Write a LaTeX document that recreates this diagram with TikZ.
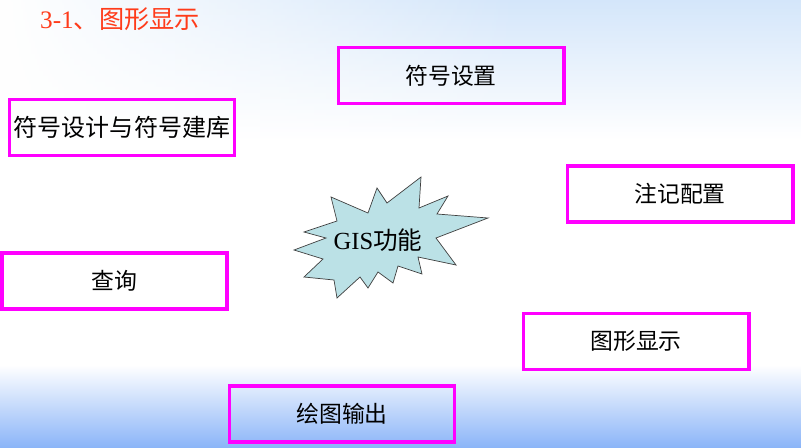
\documentclass[tikz,border=0pt]{standalone}
\usepackage{fontspec}
\setmainfont{Liberation Serif}
\newfontfamily\cjk{Noto Sans CJK SC}
\usetikzlibrary{positioning,fadings}
\definecolor{boxpink}{RGB}{255,0,255}
\definecolor{titlered}{RGB}{255,59,26}
\definecolor{burstfill}{RGB}{187,225,230}
\definecolor{skyblue}{RGB}{212,230,250}
\definecolor{floorblue}{RGB}{138,180,248}
\tikzfading[name=fadetoright, left color=transparent!0, right color=transparent!100]
\tikzset{
  func/.style={draw=boxpink, line width=3.4pt, minimum width=6.75cm,
    minimum height=1.68cm, inner sep=0pt, font=\cjk\fontsize{19.5}{22}\selectfont},
  burst/.style={draw=black!75, line width=0.6pt, fill=burstfill, line join=miter},
}

\begin{document}
\begin{tikzpicture}[x=0.03cm, y=-0.03cm]
	% background
	\useasboundingbox (0,0) rectangle (801,448);
	\shade[top color=skyblue, bottom color=white] (0,0) rectangle (801,140);
	\fill[white, path fading=fadetoright] (0,0) rectangle (520,140);
	\fill[white] (0,140) rectangle (801,365);
	\shade[top color=white, bottom color=floorblue] (0,365) rectangle (801,448);
	% title
	\node[anchor=west, inner sep=0pt, text=titlered, font=\fontsize{21.5}{24}\selectfont] (title) at (40,19) {3-1{\cjk 、图形显示}};
	% function boxes
	\node[func] (symset) at (451,75.5) {符号设置};
	\node[func, font=\cjk\fontsize{20.5}{24}\selectfont] (symlib) at (122,127.5) {符号设计与符号建库};
	\node[func] (annot) at (680,194) {注记配置};
	\node[func] (query) at (114.5,281) {查询};
	\node[func] (disp) at (636,341.5) {图形显示};
	\node[func] (output) at (342,414) {绘图输出};
	% starburst
	\draw[burst] (377,188) -- (387,203) -- (421,177) -- (419,208) -- (448,196)
		-- (437,214) -- (488,218) -- (436,238) -- (456,265) -- (418,257)
		-- (422,274) -- (398,266) -- (393,283) -- (378,272) -- (368,288)
		-- (360,277) -- (337,298) -- (334,280) -- (304,277) -- (323,259)
		-- (294,250) -- (326,238) -- (304,232) -- (337,221) -- (331,197)
		-- (368,213) -- cycle;
	\node[font=\fontsize{21}{24}\selectfont, inner sep=0pt] (gis) at (378,240) {GIS{\cjk 功能}};
\end{tikzpicture}
\end{document}
